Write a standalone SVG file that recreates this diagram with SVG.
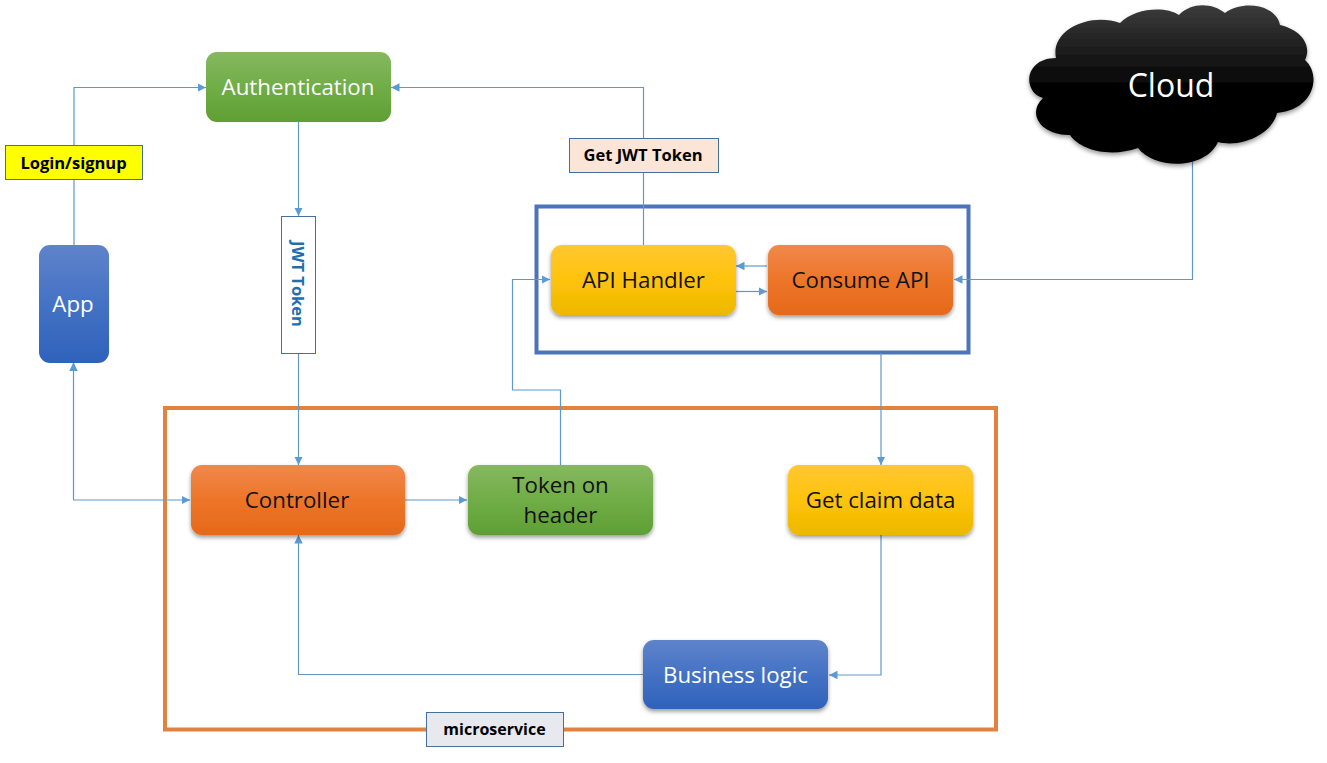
<svg xmlns="http://www.w3.org/2000/svg" width="1327" height="763" viewBox="0 0 1327 763">
<style>
.t{font-family:"Open Sans","Noto Sans","Liberation Sans",sans-serif;text-anchor:middle}
.n{font-size:22.300px}
.w{fill:#fff}
.k{fill:#111}
.l{font-family:"Open Sans","Noto Sans","Liberation Sans",sans-serif;font-size:16.500px;font-weight:700;text-anchor:middle;fill:#000}
.c{fill:none;stroke:#5f99c9;stroke-width:1.2}
.b{stroke:#41719c;stroke-width:1}
</style>
<defs>
<marker id="a" viewBox="0 0 10 10" refX="10" refY="5" markerWidth="8.500" markerHeight="8.500" markerUnits="userSpaceOnUse" orient="auto"><path d="M0 0L10 5L0 10Z" fill="#5b9bd5"/></marker>
<linearGradient id="gg" x1="0" y1="0" x2="0" y2="1"><stop offset="0" stop-color="#86b860"/><stop offset=".5" stop-color="#70ad47"/><stop offset="1" stop-color="#5f9f33"/></linearGradient>
<linearGradient id="gb" x1="0" y1="0" x2="0" y2="1"><stop offset="0" stop-color="#5f83cb"/><stop offset=".5" stop-color="#4472c4"/><stop offset="1" stop-color="#2f62bb"/></linearGradient>
<linearGradient id="gy" x1="0" y1="0" x2="0" y2="1"><stop offset="0" stop-color="#ffc733"/><stop offset=".5" stop-color="#ffc30a"/><stop offset="1" stop-color="#ecb800"/></linearGradient>
<linearGradient id="go" x1="0" y1="0" x2="0" y2="1"><stop offset="0" stop-color="#f0884c"/><stop offset=".5" stop-color="#ed7528"/><stop offset="1" stop-color="#e5691a"/></linearGradient>
<linearGradient id="gk" x1="0" y1="0" x2="0" y2="1"><stop offset="0" stop-color="#3c3c3c"/><stop offset=".5" stop-color="#050505"/><stop offset="1" stop-color="#000"/></linearGradient>
<filter id="s" x="-10%" y="-15%" width="120%" height="135%"><feDropShadow dx="0" dy="2.500" stdDeviation="2" flood-color="#000" flood-opacity=".4"/></filter>
</defs>
<rect width="1327" height="763" fill="#fff"/>
<g id="groups" fill="none" stroke-width="4">
<rect id="api-group" x="536.500" y="206.500" width="432" height="146" stroke="#4a75bb"/>
<rect id="microservice-group" x="165" y="408" width="831" height="321.500" stroke="#e3823f"/>
</g>
<g id="connectors">
<path class="c" d="M74 245V87.500H206" marker-end="url(#a)"/>
<path class="c" d="M298.500 122V216" marker-end="url(#a)"/>
<path class="c" d="M298.500 353V465" marker-end="url(#a)"/>
<path class="c" d="M643.500 245V87.500H391" marker-end="url(#a)"/>
<path class="c" d="M767 266H736" marker-end="url(#a)"/>
<path class="c" d="M736 291.500H767" marker-end="url(#a)"/>
<path class="c" d="M1192.500 162V279.500H954" marker-end="url(#a)"/>
<path class="c" d="M881 353V465" marker-end="url(#a)"/>
<path class="c" d="M881 535V675H829" marker-end="url(#a)"/>
<path class="c" d="M643 674.500H298.500V535" marker-end="url(#a)"/>
<path class="c" d="M405 500H467" marker-end="url(#a)"/>
<path class="c" d="M560.500 465V390H512.500V279.500H550" marker-end="url(#a)"/>
<path class="c" d="M73.500 363V500H190" marker-end="url(#a)"/>
<path d="M73.500 362l-4.200 9h8.400z" fill="#5b9bd5"/>
</g>
<g id="authentication"><rect x="206" y="52" width="185" height="70" rx="11" fill="url(#gg)"/><text class="t n w" x="298" y="95">Authentication</text></g>
<g id="app"><rect x="39" y="245" width="70" height="118" rx="11" fill="url(#gb)"/><text class="t n w" x="73" y="312">App</text></g>
<g id="api-handler"><rect x="551" y="245" width="185" height="70" rx="11" fill="url(#gy)" filter="url(#s)"/><text class="t n k" x="643.500" y="288">API Handler</text></g>
<g id="consume-api"><rect x="768" y="245" width="185" height="70" rx="11" fill="url(#go)" filter="url(#s)"/><text class="t n k" x="860.500" y="288">Consume API</text></g>
<g id="controller"><rect x="191" y="465" width="214" height="70" rx="11" fill="url(#go)" filter="url(#s)"/><text class="t n k" x="297" y="508">Controller</text></g>
<g id="token-on-header"><rect x="468" y="465" width="185" height="70" rx="11" fill="url(#gg)" filter="url(#s)"/><text class="t n k" x="560.500" y="493">Token on</text><text class="t n k" x="560.500" y="523">header</text></g>
<g id="get-claim-data"><rect x="788" y="465" width="185" height="70" rx="11" fill="url(#gy)" filter="url(#s)"/><text class="t n k" x="880.500" y="508">Get claim data</text></g>
<g id="business-logic"><rect x="643" y="640" width="185" height="69" rx="11" fill="url(#gb)" filter="url(#s)"/><text class="t n w" x="735.500" y="683">Business logic</text></g>
<g id="cloud"><path d="M1056 58C1050 30 1090 12 1120 23C1135 8 1165 6 1179 15C1192 2 1212 3 1225 13C1245 -1 1277 6 1280 25C1302 30 1312 46 1305 60C1322 75 1314 110 1277 113C1272 135 1240 148 1218 142C1205 170 1155 170 1138 148C1110 158 1080 150 1070 135C1042 136 1026 114 1043 98C1022 92 1024 58 1056 58Z" fill="url(#gk)" filter="url(#s)"/><text class="t w" x="1171" y="97" font-size="32">Cloud</text></g>
<g id="label-login"><rect class="b" x="5.500" y="145.500" width="137" height="34" fill="#ff0"/><text class="l" x="73.500" y="169">Login/signup</text></g>
<g id="label-jwt"><rect class="b" x="281.500" y="216.500" width="34" height="137" fill="#fff"/><text class="l" transform="translate(292 284) rotate(90)" style="fill:#1f6eb0">JWT Token</text></g>
<g id="label-get-jwt"><rect class="b" x="569.500" y="138.500" width="149" height="34" fill="#fbe5d6"/><text class="l" x="643" y="161">Get JWT Token</text></g>
<g id="label-microservice"><rect class="b" x="426.500" y="712.500" width="137" height="34" fill="#e7e9ef"/><text class="l" x="494.500" y="735" style="font-size:16px">microservice</text></g>
</svg>
